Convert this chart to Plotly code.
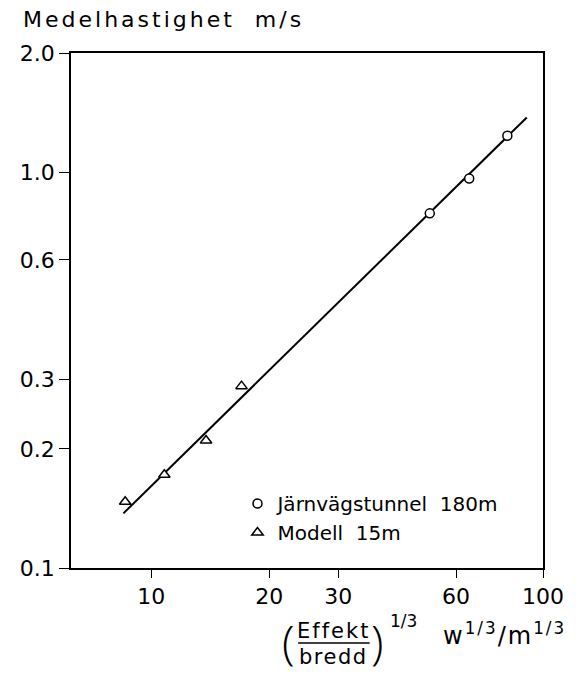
import math
import plotly.graph_objects as go

# data (log-log)
tunnel_x = [51.4, 64.8, 81.1]
tunnel_y = [0.787, 0.964, 1.236]
model_x = [8.58, 10.8, 13.8, 17.0]
model_y = [0.147, 0.172, 0.210, 0.288]
fit_x = [8.49, 90.9]
fit_y = [0.1374, 1.374]

x_ticks = [10, 20, 30, 60, 100]
x_ticktext = ["10", "20", "30", "60", "100"]
y_ticks = [0.1, 0.2, 0.3, 0.6, 1.0, 2.0]
y_ticktext = ["0.1", "0.2", "0.3", "0.6", "1.0", "2.0"]

FONT = "DejaVu Sans"
# the page body adds an 8px margin, so the figure is 8px smaller than the window
W, H = 568, 665
L, R, T, B = 55, 31, 45, 105
X0, X1, Y0, Y1 = 63, 545, 53, 568  # plot area in window pixels


def px(x):
    return (x - X0) / (X1 - X0)


def py(y):
    return (Y1 - y) / (Y1 - Y0)


def spaced(s, ls):
    return '<span style="letter-spacing:%spx">%s</span>' % (ls, s)


fig = go.Figure()

fig.add_trace(go.Scatter(
    x=fit_x, y=fit_y, mode="lines",
    line=dict(color="black", width=2),
    showlegend=False, hoverinfo="skip",
))
fig.add_trace(go.Scatter(
    x=tunnel_x, y=tunnel_y, mode="markers",
    name="Järnvägstunnel  180m",
    marker=dict(symbol="circle", size=9, color="white",
                line=dict(color="black", width=1.5)),
))
fig.add_trace(go.Scatter(
    x=model_x, y=model_y, mode="markers",
    name="Modell  15m",
    marker=dict(symbol="triangle-up", size=10, color="white",
                line=dict(color="black", width=1.5)),
))

axis_common = dict(
    showline=True, linecolor="black", linewidth=1.5, mirror=True,
    showgrid=False, zeroline=False, ticks="outside", tickcolor="black",
    tickfont=dict(family=FONT, size=22, color="black"),
)

fig.update_xaxes(
    type="log", range=[math.log10(6.24), 2],
    tickvals=x_ticks, ticktext=x_ticktext, ticklen=8, tickwidth=1.2,
    **axis_common,
)
fig.update_yaxes(
    type="log", range=[-1, math.log10(2)],
    tickvals=y_ticks, ticktext=y_ticktext, ticklen=10, tickwidth=1.2,
    **axis_common,
)

paren_font = dict(family="Open Sans", size=46, color="black", weight=300)
annotations = [
    # y axis title
    dict(text=spaced("Medelhastighet  m/s", 3), x=px(12), y=py(20),
         xanchor="left", yanchor="middle",
         font=dict(family=FONT, size=22, color="black")),
    # x axis title: (Effekt / bredd)^(1/3)  w^(1/3)/m^(1/3)
    dict(text="(", x=px(285), y=py(641), xanchor="center", yanchor="middle",
         font=paren_font),
    dict(text=")", x=px(376), y=py(641), xanchor="center", yanchor="middle",
         font=paren_font),
    dict(text=spaced("Effekt", 2), x=px(331), y=py(631), xanchor="center",
         yanchor="middle", font=dict(family=FONT, size=21, color="black")),
    dict(text=spaced("bredd", 1.5), x=px(331), y=py(657), xanchor="center",
         yanchor="middle", font=dict(family=FONT, size=21, color="black")),
    dict(text="1/3", x=px(387), y=py(621), xanchor="left", yanchor="middle",
         font=dict(family=FONT, size=17, color="black")),
    dict(text=spaced("w<sup>1/3</sup>/m<sup>1/3</sup>", 2), x=px(441), y=py(634),
         xanchor="left", yanchor="middle",
         font=dict(family=FONT, size=24, color="black")),
]
for a in annotations:
    a.update(xref="paper", yref="paper", showarrow=False)

fig.update_layout(
    width=W, height=H,
    paper_bgcolor="white", plot_bgcolor="white",
    margin=dict(l=L, r=R, t=T, b=B),
    font=dict(family=FONT, size=20, color="black"),
    annotations=annotations,
    shapes=[dict(type="line", xref="paper", yref="paper",
                 x0=px(295), x1=px(368), y0=py(643), y1=py(643),
                 line=dict(color="black", width=1.5))],
    legend=dict(
        x=px(233), y=py(484), xanchor="left", yanchor="top",
        bgcolor="rgba(0,0,0,0)", font=dict(family=FONT, size=20, color="black"),
        itemwidth=30,
    ),
)

fig.write_html("out.html")
